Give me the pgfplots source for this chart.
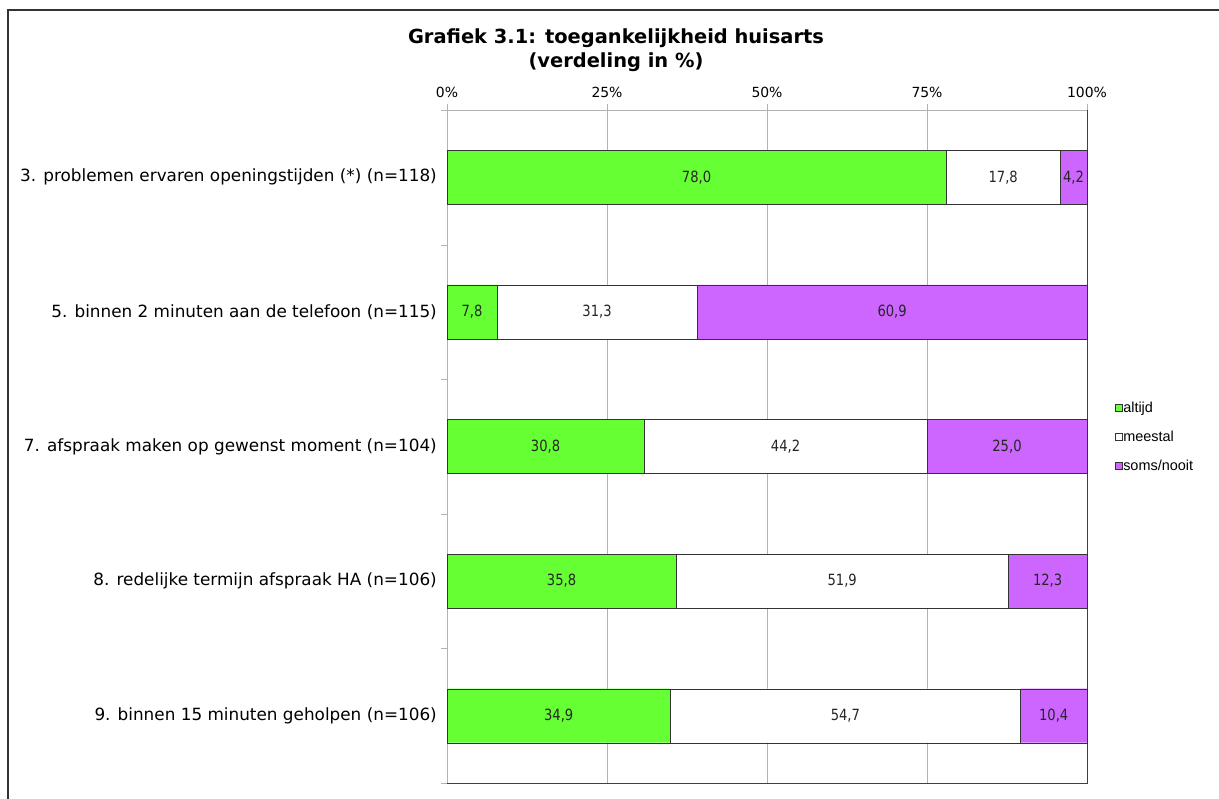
\documentclass[border=0pt]{standalone}
\usepackage{pgfplots}
\pgfplotsset{compat=1.18}
\usepackage{fontspec}
\setmainfont{DejaVu Sans}
\newfontfamily\arialfont{Liberation Sans}
\newfontfamily\valfont[FakeStretch=0.85]{DejaVu Sans}
\definecolor{cgreen}{HTML}{66FF33}
\definecolor{cpurple}{HTML}{CC66FF}
\begin{document}
\begin{tikzpicture}
\useasboundingbox (0,0) rectangle (1219bp,799bp);
\draw[black!80, line width=1.2bp] (8bp,0) -- (8bp,789bp) -- (1219bp,789bp);
\node[font=\bfseries\fontsize{19.5}{24.5}\selectfont, align=center] at (616bp,749bp) {Grafiek 3.1: toegankelijkheid huisarts\\(verdeling in \%)};
\begin{axis}[
  at={(447bp,16bp)}, anchor=south west, scale only axis,
  width=640bp, height=673bp, clip=false,
  xbar stacked, bar width=54bp,
  xmin=0, xmax=100, ymin=-0.5, ymax=4.5, y dir=reverse,
  xtick={0,25,50,75,100}, xticklabels={0\%,25\%,50\%,75\%,100\%},
  xtick pos=right, xticklabel pos=right,
  xticklabel style={font=\fontsize{14}{14}\selectfont, yshift=3bp},
  xmajorgrids, major grid style={gray!60},
  ytick={-0.5,0.5,...,4.5}, yticklabels={}, ytick pos=left,
  tick align=outside, major tick length=6bp, tick style={gray!60},
  axis line style={gray!60},
  extra y ticks={0,1,2,3,4},
  extra y tick labels={3. problemen ervaren openingstijden (*) (n=118),5. binnen 2 minuten aan de telefoon (n=115),7. afspraak maken op gewenst moment (n=104),8. redelijke termijn afspraak HA (n=106),9. binnen 15 minuten geholpen (n=106)},
  extra y tick style={major tick length=0pt, yticklabel style={font=\fontsize{16.9}{17}\selectfont, inner sep=0pt, xshift=-10bp}},
  legend style={at={(1.044,0.514)}, anchor=west, draw=none, fill=none,
    font=\arialfont\fontsize{14.5}{16}\selectfont, row sep=16bp, inner sep=0pt,
    nodes={inner sep=0.5bp}},
  legend cell align=left,
  legend image code/.code={\draw[#1,draw=black!80] (0bp,-3.5bp) rectangle (7bp,3.5bp);},
]
\addplot[fill=cgreen, draw=black!80] coordinates {(78.0,0) (7.8,1) (30.8,2) (35.8,3) (34.9,4)};
\addplot[fill=white, draw=black!80] coordinates {(17.8,0) (31.3,1) (44.2,2) (51.9,3) (54.7,4)};
\addplot[fill=cpurple, draw=black!80] coordinates {(4.2,0) (60.9,1) (25.0,2) (12.3,3) (10.4,4)};
\legend{altijd,meestal,soms/nooit}
\draw[black!75, line width=1bp] (axis cs:0,4.5) -- (axis cs:100,4.5) -- (axis cs:100,-0.5);
\end{axis}
\begin{axis}[
  at={(447bp,16bp)}, anchor=south west, scale only axis,
  width=640bp, height=673bp,
  xmin=0, xmax=100, ymin=-0.5, ymax=4.5, y dir=reverse, hide axis,
]
\addplot[draw=none, nodes near coords, point meta=explicit symbolic,
  nodes near coords align={anchor=center},
  every node near coord/.append style={font=\valfont\fontsize{15.5}{15.5}\selectfont, text=black!85, inner sep=0pt}]
  table[meta=lab] {
x y lab
39.0 0 78,0
86.9 0 17,8
97.9 0 4,2
3.9 1 7,8
23.45 1 31,3
69.55 1 60,9
15.4 2 30,8
52.9 2 44,2
87.5 2 25,0
17.9 3 35,8
61.75 3 51,9
93.85 3 12,3
17.45 4 34,9
62.25 4 54,7
94.8 4 10,4
};
\end{axis}
\end{tikzpicture}
\end{document}
